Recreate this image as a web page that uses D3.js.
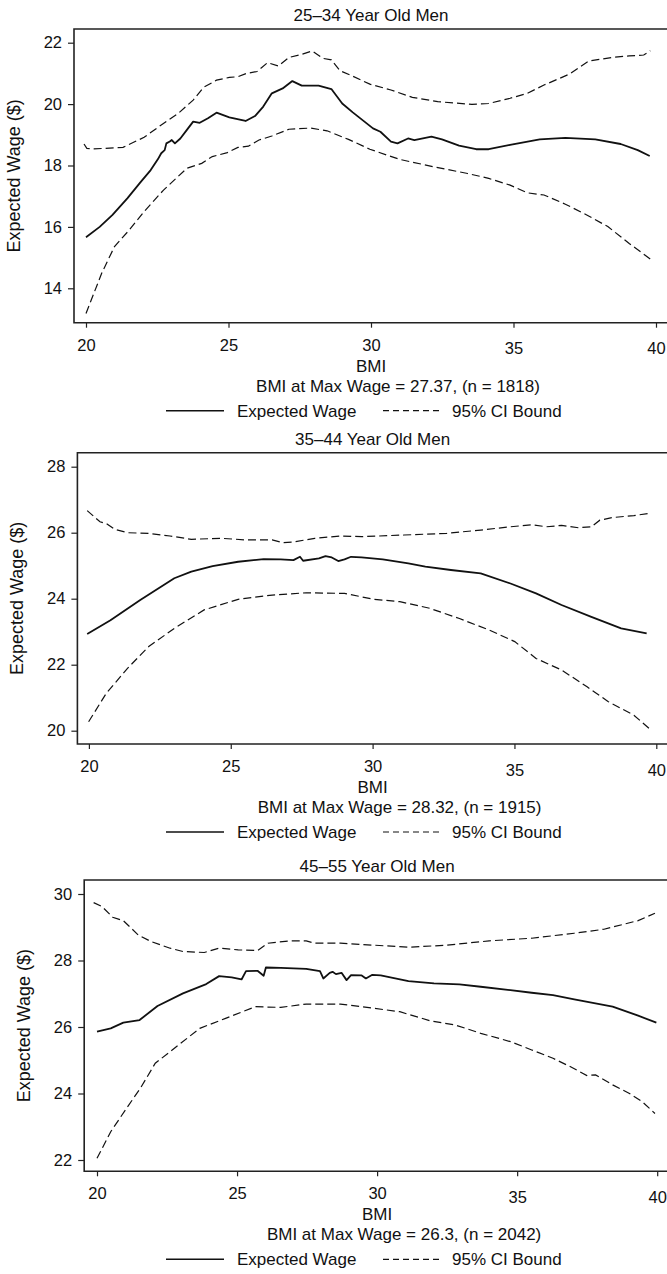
<!DOCTYPE html>
<html>
<head>
<meta charset="utf-8">
<script src="https://cdn.jsdelivr.net/npm/d3@7"></script>
<style>
  body { margin: 0; background: #fff; }
  text { font-family: "Liberation Sans", Arial, sans-serif; fill: #111; }
</style>
</head>
<body>
<script>
// Chart size
var w = 667;
var h = 1274;

// Panel titles and notes
var titles = ["25\u201334 Year Old Men", "35\u201344 Year Old Men", "45\u201355 Year Old Men"];
var notes = ["BMI at Max Wage = 27.37, (n = 1818)", "BMI at Max Wage = 28.32, (n = 1915)", "BMI at Max Wage = 26.3, (n = 2042)"];

// Tick labels
var xTicks = [20, 25, 30, 35, 40];
var yTicks1 = [14, 16, 18, 20, 22];
var yTicks2 = [20, 22, 24, 26, 28];
var yTicks3 = [22, 24, 26, 28, 30];

// Panel 1: [BMI, wage]
var wage1 = [[20,15.66],[20.48,16.0],[20.93,16.39],[21.45,16.93],[21.9,17.44],[22.27,17.85],[22.52,18.2],[22.64,18.4],[22.76,18.5],[22.82,18.72],[22.94,18.78],[23.01,18.83],[23.12,18.72],[23.31,18.88],[23.54,19.16],[23.76,19.43],[23.99,19.39],[24.28,19.54],[24.58,19.72],[25.03,19.57],[25.6,19.45],[25.93,19.61],[26.22,19.92],[26.52,20.35],[26.9,20.51],[27.24,20.75],[27.57,20.6],[28.16,20.6],[28.61,20.49],[28.99,20.02],[29.36,19.73],[30.07,19.21],[30.33,19.1],[30.7,18.78],[30.93,18.72],[31.3,18.88],[31.52,18.83],[32.12,18.94],[32.49,18.85],[33.09,18.65],[33.69,18.53],[34.13,18.53],[34.88,18.67],[35.92,18.85],[36.82,18.9],[37.87,18.85],[38.76,18.7],[39.36,18.5],[39.78,18.31]];
var upper1 = [[19.93,18.7],[20.03,18.56],[20.25,18.54],[21.3,18.59],[22.04,18.92],[22.64,19.32],[23.24,19.7],[23.76,20.13],[24.13,20.55],[24.58,20.78],[25.03,20.87],[25.33,20.89],[25.63,21.0],[26.0,21.06],[26.37,21.35],[26.75,21.24],[27.12,21.52],[27.49,21.6],[27.94,21.73],[28.31,21.49],[28.61,21.44],[28.91,21.09],[29.36,20.91],[29.96,20.65],[30.7,20.46],[31.45,20.22],[32.34,20.08],[33.54,19.99],[34.13,20.02],[34.88,20.19],[35.48,20.35],[36.07,20.62],[36.97,20.98],[37.64,21.4],[38.46,21.52],[39.06,21.57],[39.57,21.6],[39.8,21.74]];
var lower1 = [[20,13.18],[20.55,14.49],[21.0,15.36],[21.52,15.9],[22.04,16.5],[22.72,17.2],[23.54,17.91],[24.06,18.07],[24.43,18.29],[24.96,18.42],[25.33,18.59],[25.7,18.63],[26.07,18.83],[26.52,18.96],[27.12,19.18],[27.87,19.22],[28.46,19.13],[29.21,18.85],[29.96,18.53],[31.0,18.2],[32.19,17.96],[33.39,17.74],[34.13,17.58],[34.88,17.36],[35.48,17.11],[36.07,17.04],[36.82,16.74],[37.57,16.39],[38.31,16.01],[39.06,15.46],[39.88,14.9]];

// Panel 2
var wage2 = [[19.94,22.93],[20.76,23.35],[21.81,23.96],[23.01,24.62],[23.61,24.82],[24.36,24.99],[25.26,25.12],[26.16,25.2],[26.76,25.19],[27.21,25.17],[27.44,25.27],[27.55,25.15],[28.11,25.22],[28.34,25.29],[28.56,25.25],[28.79,25.14],[29.01,25.19],[29.24,25.27],[29.61,25.25],[30.36,25.19],[31.26,25.07],[31.86,24.97],[32.76,24.87],[33.81,24.77],[34.86,24.46],[35.76,24.16],[36.66,23.81],[37.71,23.45],[38.76,23.1],[39.66,22.95]];
var upper2 = [[19.94,26.67],[20.39,26.33],[20.61,26.28],[20.91,26.1],[21.36,26.0],[22.11,25.98],[22.86,25.9],[23.61,25.8],[24.66,25.83],[25.56,25.78],[26.46,25.78],[26.84,25.7],[27.21,25.72],[27.96,25.83],[28.86,25.9],[29.61,25.88],[31.11,25.93],[32.61,25.98],[33.81,26.08],[34.86,26.18],[35.61,26.24],[36.13,26.18],[36.66,26.22],[37.26,26.15],[37.71,26.18],[38.01,26.38],[38.46,26.46],[39.21,26.52],[39.81,26.59]];
var lower2 = [[19.99,20.27],[20.61,21.13],[21.36,21.89],[22.11,22.55],[23.01,23.1],[24.06,23.66],[25.26,23.98],[26.46,24.11],[27.66,24.18],[29.01,24.16],[30.06,23.98],[30.96,23.91],[32.01,23.71],[33.06,23.4],[34.11,23.05],[35.01,22.7],[35.76,22.19],[36.66,21.84],[37.56,21.33],[38.31,20.88],[39.21,20.47],[39.81,20.02]];

// Panel 3
var wage3 = [[20,25.86],[20.49,25.96],[20.94,26.13],[21.52,26.21],[22.16,26.63],[23.07,27.01],[23.9,27.29],[24.36,27.53],[24.81,27.49],[25.16,27.43],[25.32,27.68],[25.73,27.69],[25.95,27.54],[26.03,27.79],[26.56,27.78],[27.47,27.75],[27.96,27.68],[28.08,27.46],[28.31,27.63],[28.41,27.66],[28.53,27.59],[28.73,27.63],[28.91,27.41],[29.07,27.56],[29.45,27.55],[29.6,27.46],[29.83,27.57],[30.13,27.55],[31.12,27.38],[32.03,27.31],[32.94,27.28],[33.7,27.21],[34.76,27.11],[35.52,27.03],[36.28,26.96],[37.04,26.83],[38.41,26.61],[39.32,26.34],[39.97,26.13]];
var upper3 = [[19.88,29.74],[20.18,29.62],[20.56,29.3],[20.94,29.2],[21.47,28.77],[21.93,28.57],[22.61,28.37],[23.07,28.27],[23.83,28.24],[24.36,28.37],[25.04,28.32],[25.73,28.3],[26.1,28.52],[26.86,28.59],[27.47,28.59],[27.78,28.52],[28.69,28.52],[29.9,28.46],[31.12,28.4],[32.48,28.46],[34.0,28.59],[35.52,28.67],[37.04,28.82],[38.1,28.94],[39.32,29.2],[39.92,29.42]];
var lower3 = [[20,22.05],[20.49,22.85],[21.09,23.6],[21.55,24.16],[22.08,24.91],[22.61,25.26],[23.67,25.96],[24.59,26.26],[25.65,26.61],[26.56,26.59],[27.47,26.69],[28.69,26.69],[29.9,26.56],[30.81,26.46],[31.88,26.19],[32.79,26.06],[33.7,25.81],[34.76,25.56],[35.52,25.31],[36.28,25.06],[36.89,24.81],[37.49,24.54],[37.8,24.56],[38.41,24.26],[39.01,24.0],[39.47,23.75],[39.92,23.4]];

// Pixel layout of each panel (frame and tick positions)
var layout = [
  { left: 74,   top: 29,    bottom: 322.7,  x20: 86,   x40: 656,   yLo: 288.3, yHi: 42.7 },
  { left: 77.4, top: 452.7, bottom: 744,    x20: 88.9, x40: 656.3, yLo: 730.7, yHi: 466.7 },
  { left: 84.2, top: 880,   bottom: 1171.3, x20: 97,   x40: 657.2, yLo: 1160,  yHi: 894 }
];

var yTickSets = [yTicks1, yTicks2, yTicks3];
var series = [[wage1, upper1, lower1], [wage2, upper2, lower2], [wage3, upper3, lower3]];

var svg = d3.select("body")
            .append("svg")
            .attr("width", w)
            .attr("height", h);

layout.forEach(function(L, i) {
    var yTicks = yTickSets[i];
    var xScale = d3.scaleLinear().domain([20, 40]).range([L.x20, L.x40]);
    var yScale = d3.scaleLinear()
                   .domain([yTicks[0], yTicks[yTicks.length - 1]])
                   .range([L.yLo, L.yHi]);

    var g = svg.append("g");

    // title
    g.append("text")
     .attr("x", xScale(30))
     .attr("y", L.top - 8)
     .attr("text-anchor", "middle")
     .attr("font-size", "17px")
     .text(titles[i]);

    // frame (right edge sits off the page, as in the scan)
    g.append("path")
     .attr("d", "M" + (w + 10) + "," + L.top + "H" + L.left + "V" + L.bottom + "H" + (w + 10))
     .attr("fill", "none")
     .attr("stroke", "#222")
     .attr("stroke-width", 1.6);

    // y axis ticks + labels
    var yAxis = d3.axisLeft(yScale).tickValues(yTicks).tickSize(6).tickPadding(6).tickFormat(d3.format("d"));
    var ya = g.append("g").attr("transform", "translate(" + L.left + ",0)").call(yAxis);
    ya.select(".domain").remove();
    ya.selectAll("line").attr("stroke", "#222").attr("stroke-width", 1.2);
    ya.selectAll("text").attr("font-size", "16.5px").attr("fill", "#111")
      .attr("font-family", "Liberation Sans, Arial, sans-serif");

    // x axis ticks + labels
    var xAxis = d3.axisBottom(xScale).tickValues(xTicks).tickSize(5).tickPadding(10).tickFormat(d3.format("d"));
    var xa = g.append("g").attr("transform", "translate(0," + L.bottom + ")").call(xAxis);
    xa.select(".domain").remove();
    xa.selectAll("line").attr("stroke", "#222").attr("stroke-width", 1.2);
    xa.selectAll("text").attr("font-size", "16.5px").attr("fill", "#111")
      .attr("font-family", "Liberation Sans, Arial, sans-serif")
      .attr("dy", function(d) { return d >= 35 ? "1.0em" : "0.8em"; });

    // axis titles
    g.append("text")
     .attr("x", xScale(30))
     .attr("y", L.bottom + 49)
     .attr("text-anchor", "middle")
     .attr("font-size", "17px")
     .text("BMI");

    g.append("text")
     .attr("transform", "translate(" + (L.left - 54) + "," + ((L.top + L.bottom) / 2) + ") rotate(-90)")
     .attr("text-anchor", "middle")
     .attr("font-size", "18px")
     .text("Expected Wage ($)");

    g.append("text")
     .attr("x", xScale(30) + 27)
     .attr("y", L.bottom + 69)
     .attr("text-anchor", "middle")
     .attr("font-size", "17px")
     .text(notes[i]);

    // curves
    var line = d3.line()
                 .x(function(d) { return xScale(d[0]); })
                 .y(function(d) { return yScale(d[1]); });

    g.append("path")
     .datum(series[i][0])
     .attr("d", line)
     .attr("fill", "none")
     .attr("stroke", "#111")
     .attr("stroke-width", 1.8)
     .attr("stroke-linejoin", "round");

    [series[i][1], series[i][2]].forEach(function(s) {
        g.append("path")
         .datum(s)
         .attr("d", line)
         .attr("fill", "none")
         .attr("stroke", "#111")
         .attr("stroke-width", 1.2)
         .attr("stroke-dasharray", "8,4");
    });

    // legend
    var ly = L.bottom + 88;
    g.append("line")
     .attr("x1", 166).attr("x2", 224).attr("y1", ly).attr("y2", ly)
     .attr("stroke", "#111").attr("stroke-width", 1.6);
    g.append("text")
     .attr("x", 237).attr("y", ly + 6)
     .attr("font-size", "17px")
     .text("Expected Wage");
    g.append("line")
     .attr("x1", 383).attr("x2", 440).attr("y1", ly).attr("y2", ly)
     .attr("stroke", "#111").attr("stroke-width", 1.2)
     .attr("stroke-dasharray", "6,4");
    g.append("text")
     .attr("x", 452).attr("y", ly + 6)
     .attr("font-size", "17px")
     .text("95% CI Bound");
});
</script>
</body>
</html>
